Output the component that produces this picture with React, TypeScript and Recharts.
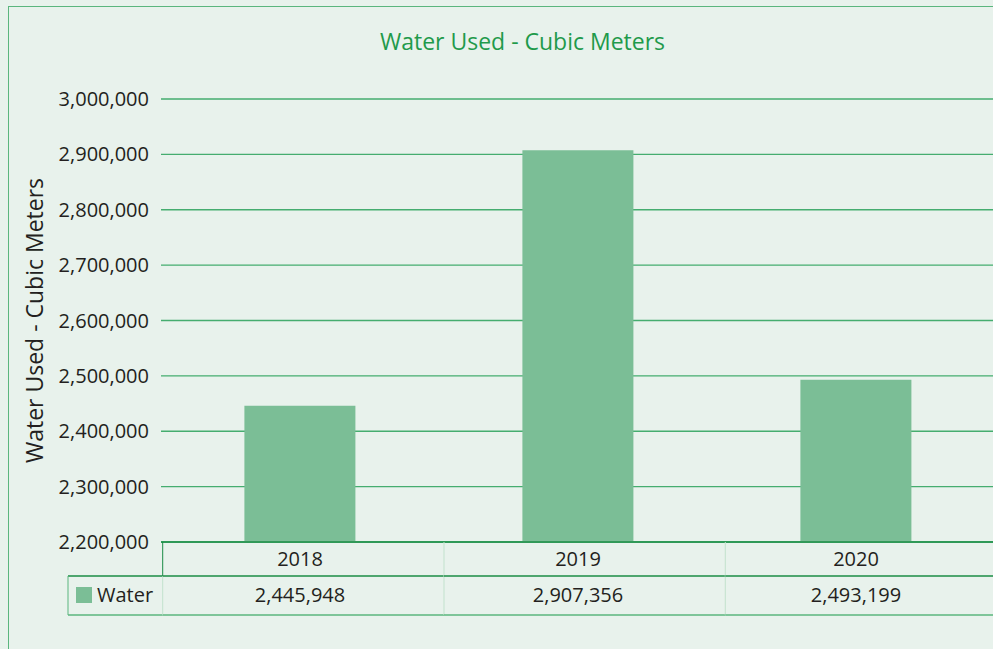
import React from 'react';
import { BarChart, Bar, XAxis, YAxis, CartesianGrid } from 'recharts';

const years = ['2018', '2019', '2020'];
const waterUsed = [2445948, 2907356, 2493199];
const yTicks = [2200000, 2300000, 2400000, 2500000, 2600000, 2700000, 2800000, 2900000, 3000000];
const seriesName = 'Water';
const chartTitle = 'Water Used - Cubic Meters';

const data = years.map((year, i) => ({ year, water: waterUsed[i] }));

const W = 1010;
const H = 649;
const MARGIN = { top: 99, right: 15, bottom: 0, left: 0 };
const Y_AXIS_W = 161;
const X_AXIS_H = 107;
const BAND = (W - MARGIN.left - MARGIN.right - Y_AXIS_W) / years.length;
// table columns are a little wider than the bar bands
const TABLE_COL = 281.3;
const TABLE_SHIFT = 1.7;

const BG = '#e8f2ec';
const DARK = '#1b8c45';
const MID = '#5bb67e';
const LIGHT = '#c2e2cd';
const BAR = '#7bbe96';
const TEXT = '#231f20';
const FONT = '"Open Sans", sans-serif';

const fmt = (v: number) => v.toLocaleString('en-US');

const TableTick = (props: any) => {
  const { x, y, payload } = props;
  const i = years.indexOf(payload.value);
  const x0 = x - BAND / 2 + TABLE_SHIFT + i * (TABLE_COL - BAND);
  const x1 = x0 + TABLE_COL;
  const r1 = y;
  const r2 = y + 34;
  const r3 = y + 73;
  const keyLeft = 68;
  return (
    <g>
      {i === 0 ? (
        <g>
          <line x1={x0} y1={r1} x2={x0} y2={r2} stroke={DARK} strokeWidth={1} />
          <line x1={keyLeft} y1={r2} x2={x0} y2={r2} stroke={DARK} strokeWidth={1.5} />
          <line x1={keyLeft} y1={r3} x2={x0} y2={r3} stroke={MID} strokeWidth={1.5} />
          <line x1={keyLeft} y1={r2} x2={keyLeft} y2={r3} stroke={MID} strokeWidth={1} />
          <line x1={x0} y1={r2} x2={x0} y2={r3} stroke={LIGHT} strokeWidth={1} />
          <rect x={76} y={r2 + 11} width={16} height={16} fill={BAR} />
          <text x={97} y={r2 + 26} fill={TEXT} fontSize={20} fontFamily={FONT}>
            {seriesName}
          </text>
        </g>
      ) : (
        <line x1={x0} y1={r1} x2={x0} y2={r3} stroke={LIGHT} strokeWidth={1} />
      )}
      <line x1={x0} y1={r2} x2={x1} y2={r2} stroke={DARK} strokeWidth={1.5} />
      <line x1={x0} y1={r3} x2={x1} y2={r3} stroke={MID} strokeWidth={1.5} />
      <text x={x} y={r1 + 24} textAnchor="middle" fill={TEXT} fontSize={20} fontFamily={FONT}>
        {payload.value}
      </text>
      <text x={x} y={r2 + 26} textAnchor="middle" fill={TEXT} fontSize={20} fontFamily={FONT}>
        {fmt(waterUsed[i])}
      </text>
    </g>
  );
};

export default function App() {
  return (
    <div style={{ position: 'fixed', inset: 0, background: BG, overflow: 'hidden', fontFamily: FONT }}>
      <div
        style={{
          position: 'absolute',
          left: 8,
          top: 6,
          width: 1100,
          height: 700,
          border: `1px solid ${MID}`,
          boxSizing: 'border-box',
        }}
      />
      <div
        style={{
          position: 'absolute',
          left: 0,
          top: 26,
          width: 1045,
          textAlign: 'center',
          color: '#1f9a4b',
          fontSize: 23,
          lineHeight: '30px',
        }}
      >
        {chartTitle}
      </div>
      <div style={{ position: 'absolute', left: 0, top: 0 }}>
        <BarChart width={W} height={H} data={data} margin={MARGIN} barCategoryGap="30%">
          <CartesianGrid vertical={false} stroke="#45ad6f" strokeWidth={1.3} />
          <XAxis
            dataKey="year"
            height={X_AXIS_H}
            axisLine={{ stroke: DARK, strokeWidth: 1.5 }}
            tickLine={false}
            tickSize={0}
            tickMargin={0}
            interval={0}
            tick={<TableTick />}
          />
          <YAxis
            width={Y_AXIS_W}
            domain={[2200000, 3000000]}
            ticks={yTicks}
            allowDataOverflow
            axisLine={false}
            tickLine={false}
            tickSize={0}
            tickMargin={12}
            tickFormatter={fmt}
            tick={{ fill: TEXT, fontSize: 20, fontFamily: FONT }}
            label={{
              value: chartTitle,
              angle: -90,
              position: 'insideLeft',
              offset: 35,
              style: { textAnchor: 'middle', fill: TEXT, fontSize: 23, fontFamily: FONT },
            }}
          />
          <Bar dataKey="water" name={seriesName} fill={BAR} isAnimationActive={false} />
        </BarChart>
      </div>
    </div>
  );
}
